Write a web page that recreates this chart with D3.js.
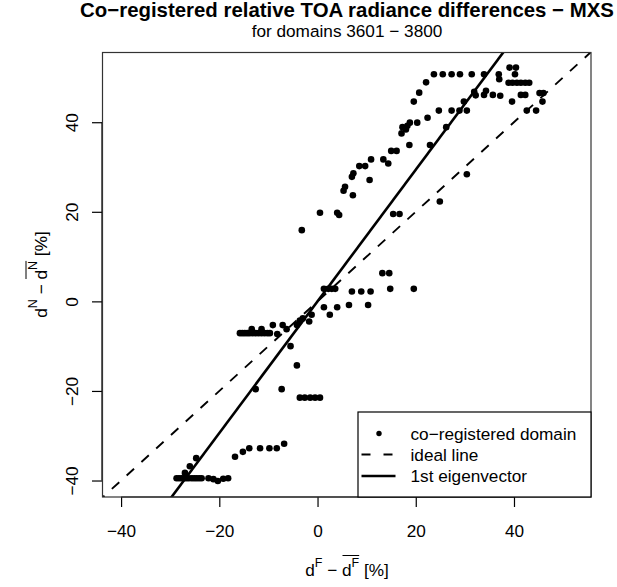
<!DOCTYPE html>
<html>
<head>
<meta charset="utf-8">
<script src="https://cdn.jsdelivr.net/npm/d3@7"></script>
<style>
  body { margin: 0; background: #fff; }
  text { font-family: "Liberation Sans", Arial, Helvetica, sans-serif; fill: #000; }
</style>
</head>
<body>
<svg id="chart" width="617" height="587"></svg>
<script>
// Relative TOA radiance differences of co-registered domains (%)
const domainDF = [
  -28.7, -28.2, -27.7, -27.2, -26.7, -26.2, -25.6, -25.1, -24.6, -24.1, -23.6, -22.2, -21.2, -20.3, -19.2, -18.2,
  -27.0, -26.0, -24.7,
  -16.8, -15.2, -13.9, -11.7, -9.8, -8.3, -6.8,
  -12.6, -7.3,
  -3.6, -2.6, -1.5, -0.5, 0.5,
  -4.2, -5.5,
  -15.8, -15.3, -14.8, -14.3, -13.8, -13.2, -12.6, -12.0, -11.4, -10.8, -10.2, -9.7, -13.4, -11.4,
  -9.1, -8.2, -7.1, -6.3, -4.2, -3.6, -3.0, -1.7, -1.2,
  1.3, 2.5, 4.0, 6.4, 10.3,
  1.3, 2.2, 2.9, 3.6,
  7.0, 8.9, 10.8, 13.2, 14.6, 14.8, 19.6,
  -3.2, 0.5, 4.0, 4.4, 15.4, 16.7,
  5.6, 5.3, 7.2, 7.3, 7.0, 10.6,
  8.5, 9.7, 10.9, 13.4, 14.4, 15.0, 16.1,
  18.7, 22.9, 24.9, 30.4,
  17.1, 18.0, 17.3, 18.3, 18.8, 20.3, 22.4, 26.2,
  24.7, 27.3, 28.9, 30.4, 29.8,
  19.6, 20.7, 22.1,
  23.7, 25.5, 27.3, 29.0, 31.4, 33.9, 36.9, 37.0, 40.2,
  39.1, 40.4,
  38.9, 39.7, 40.6, 41.4, 42.3, 43.1,
  31.9, 32.2, 34.3, 33.9, 35.7, 37.2,
  39.6, 41.4, 42.3, 45.2, 46.0, 45.8,
  42.6, 44.5
];
const domainDN = [
  -39.5, -39.5, -39.5, -39.5, -39.5, -39.5, -39.5, -39.5, -39.5, -39.5, -39.5, -39.5, -39.7, -40.1, -39.6, -39.5,
  -38.3, -36.8, -35.0,
  -34.7, -33.6, -32.8, -32.8, -32.8, -32.8, -31.8,
  -19.6, -19.6,
  -21.5, -21.5, -21.5, -21.5, -21.5,
  -14.3, -10.0,
  -7.1, -7.1, -7.1, -7.1, -7.1, -7.1, -7.1, -7.1, -7.1, -7.1, -7.1, -7.1, -6.2, -6.2,
  -5.3, -7.3, -5.3, -6.2, -5.3, -4.3, -3.8, -4.5, -3.0,
  -1.3, -3.0, -1.3, -0.8, -0.8,
  2.8, 2.8, 2.8, 2.8,
  2.2, 2.2, 2.2, 6.3, 6.3, 2.8, 2.8,
  15.9, 19.8, 19.8, 19.3, 19.5, 19.5,
  25.6, 24.7, 23.7, 28.6, 27.8, 27.1,
  30.2, 30.2, 31.7, 31.7, 30.8, 33.6, 33.6,
  34.9, 34.9, 22.3, 28.4,
  37.5, 38.4, 38.9, 39.2, 39.9, 39.9, 41.0, 38.9,
  42.6, 42.6, 42.6, 42.6, 44.6,
  44.6, 46.6, 48.9,
  50.7, 50.7, 50.7, 50.7, 50.7, 50.7, 50.7, 49.6, 50.7,
  52.2, 52.2,
  48.8, 48.8, 48.8, 48.8, 48.8, 48.8,
  46.8, 46.0, 47.0, 46.1, 46.1, 45.9,
  44.6, 46.1, 46.1, 46.5, 46.5, 44.6,
  42.6, 42.6
];

// Axis limits (shared by both axes) and tick values
const axisLimits = [-40, 52];
const tickValues = [-40, -20, 0, 20, 40];

// Fitted first eigenvector through the centred data, and the ideal 1:1 line
const eigenSlope = 1.47;
const eigenIntercept = 0;
const idealSlope = 1;
const idealIntercept = 0;

const legendLabels = ["co\u2212registered domain", "ideal line", "1st eigenvector"];
const titleText = "Co\u2212registered relative TOA radiance differences \u2212 MXS";
const subtitleText = "for domains 3601 \u2212 3800";

const svg = d3.select("#chart");
const FS = 17.2;         // base font size
const SUP = 12.5;        // superscript font size

const plot = { left: 103, right: 591, top: 52, bottom: 497 };

// 4% range extension on each side
const ext = (axisLimits[1] - axisLimits[0]) * 0.04;
const dom = [axisLimits[0] - ext, axisLimits[1] + ext];

const x = d3.scaleLinear().domain(dom).range([plot.left, plot.right]);
const y = d3.scaleLinear().domain(dom).range([plot.bottom, plot.top]);

svg.append("defs").append("clipPath").attr("id", "plotClip")
  .append("rect")
  .attr("x", plot.left).attr("y", plot.top)
  .attr("width", plot.right - plot.left).attr("height", plot.bottom - plot.top);

// Title
svg.append("text")
  .attr("x", (plot.left + plot.right) / 2).attr("y", 16.5)
  .attr("text-anchor", "middle")
  .style("font-size", "20.4px").style("font-weight", "bold")
  .text(titleText);
svg.append("text")
  .attr("x", (plot.left + plot.right) / 2).attr("y", 36.5)
  .attr("text-anchor", "middle")
  .style("font-size", FS + "px")
  .text(subtitleText);

// Points
svg.append("g").selectAll("circle")
  .data(domainDF.map((d, i) => [d, domainDN[i]]))
  .join("circle")
  .attr("cx", d => x(d[0]))
  .attr("cy", d => y(d[1]))
  .attr("r", 3.3)
  .attr("fill", "#000");

// Reference lines
const lines = svg.append("g").attr("clip-path", "url(#plotClip)");
lines.append("line")
  .attr("x1", x(dom[0])).attr("y1", y(idealSlope * dom[0] + idealIntercept))
  .attr("x2", x(dom[1])).attr("y2", y(idealSlope * dom[1] + idealIntercept))
  .attr("stroke", "#000").attr("stroke-width", 1.9)
  .attr("stroke-dasharray", "10,10").attr("stroke-dashoffset", 8);
lines.append("line")
  .attr("x1", x(dom[0])).attr("y1", y(eigenSlope * dom[0] + eigenIntercept))
  .attr("x2", x(dom[1])).attr("y2", y(eigenSlope * dom[1] + eigenIntercept))
  .attr("stroke", "#000").attr("stroke-width", 2.6);

// Axes
const xAxis = d3.axisBottom(x).tickValues(tickValues).tickSize(10).tickPadding(0)
  .tickFormat(d3.format("d"));
const gx = svg.append("g").attr("transform", `translate(0,${plot.bottom})`).call(xAxis);
gx.select(".domain").remove();
gx.append("line")
  .attr("x1", x(tickValues[0])).attr("x2", x(tickValues[tickValues.length - 1]))
  .attr("stroke", "#000").attr("stroke-width", 1.2);
gx.selectAll(".tick line").attr("stroke", "#000").attr("stroke-width", 1.2);
gx.selectAll(".tick text")
  .attr("y", 40).attr("dy", null)
  .style("font-size", FS + "px").style("font-family", '"Liberation Sans", Arial, sans-serif')
  .attr("fill", "#000");

const yAxis = d3.axisLeft(y).tickValues(tickValues).tickSize(10).tickFormat(d3.format("d"));
const gy = svg.append("g").attr("transform", `translate(${plot.left - 1},0)`).call(yAxis);
gy.select(".domain").remove();
gy.append("line")
  .attr("y1", y(tickValues[0])).attr("y2", y(tickValues[tickValues.length - 1]))
  .attr("stroke", "#000").attr("stroke-width", 1.2);
gy.selectAll(".tick line").attr("stroke", "#000").attr("stroke-width", 1.2);
gy.selectAll(".tick text")
  .attr("x", null).attr("dy", null)
  .attr("transform", "translate(-24,0) rotate(-90)")
  .attr("text-anchor", "middle")
  .style("font-size", FS + "px").style("font-family", '"Liberation Sans", Arial, sans-serif')
  .attr("fill", "#000");

// Plot box
svg.append("rect")
  .attr("x", plot.left - 0.5).attr("y", plot.top + 0.5)
  .attr("width", plot.right - plot.left + 0.5).attr("height", plot.bottom - plot.top - 0.5)
  .attr("fill", "none").attr("stroke", "#333").attr("stroke-width", 1.2);

// Axis title of the form  d^S − overline(d^S) [%]
function mathLabel(cx, cy, sup, angle) {
  const g = svg.append("g").attr("transform", `translate(${cx},${cy}) rotate(${angle})`);
  const parts = [
    { t: "d", fs: FS, dy: 0 },
    { t: sup, fs: SUP, dy: -9.5 },
    { t: " \u2212 ", fs: FS, dy: 0 },
    { t: "d", fs: FS, dy: 0, bar: true },
    { t: sup, fs: SUP, dy: -9.5, bar: true },
    { t: " [%]", fs: FS, dy: 0 }
  ];
  let pos = 0;
  const nodes = parts.map(p => {
    const n = g.append("text").attr("y", p.dy).style("font-size", p.fs + "px")
      .style("white-space", "pre").attr("xml:space", "preserve").text(p.t);
    const w = n.node().getComputedTextLength();
    const r = { n, x: pos, w, bar: p.bar };
    pos += w;
    return r;
  });
  const total = pos;
  nodes.forEach(r => r.n.attr("x", r.x - total / 2));
  const barred = nodes.filter(r => r.bar);
  const bx0 = barred[0].x - total / 2 + 0.5;
  const last = barred[barred.length - 1];
  const bx1 = last.x + last.w - total / 2;
  g.append("line").attr("x1", bx0).attr("x2", bx1).attr("y1", -20.5).attr("y2", -20.5)
    .attr("stroke", "#000").attr("stroke-width", 1);
}
mathLabel((plot.left + plot.right) / 2, 576, "F", 0);
mathLabel(46.5, (plot.top + plot.bottom) / 2, "N", -90);

// Legend (bottom right)
const lg = svg.append("g");
const legendBox = { x0: 358, x1: plot.right, y0: 412, y1: plot.bottom };
lg.append("rect")
  .attr("x", legendBox.x0).attr("y", legendBox.y0)
  .attr("width", legendBox.x1 - legendBox.x0).attr("height", legendBox.y1 - legendBox.y0)
  .attr("fill", "#fff").attr("stroke", "#000").attr("stroke-width", 1.2);
const rowY = [433.5, 454.5, 476];
lg.append("circle").attr("cx", 379).attr("cy", rowY[0]).attr("r", 2.7).attr("fill", "#000");
lg.append("line").attr("x1", 361.5).attr("x2", 395.5).attr("y1", rowY[1]).attr("y2", rowY[1])
  .attr("stroke", "#000").attr("stroke-width", 1.9).attr("stroke-dasharray", "9,13");
lg.append("line").attr("x1", 361.5).attr("x2", 395.5).attr("y1", rowY[2]).attr("y2", rowY[2])
  .attr("stroke", "#000").attr("stroke-width", 2.6);
legendLabels.forEach((t, i) => {
  lg.append("text").attr("x", 410.5).attr("y", rowY[i]).attr("dy", "0.35em")
    .style("font-size", FS + "px").text(t);
});
</script>
</body>
</html>
